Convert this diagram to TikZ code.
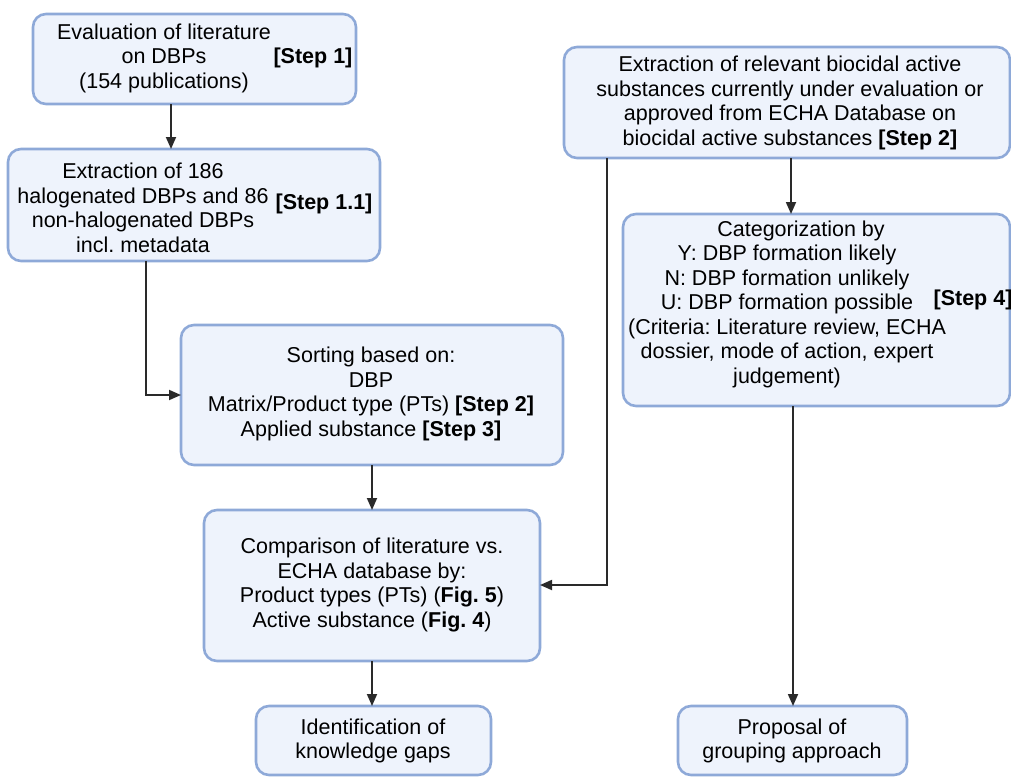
\documentclass[tikz,border=0pt]{standalone}
\usepackage{fontspec}
\setmainfont{Liberation Sans}
\frenchspacing
\usetikzlibrary{arrows.meta}
\definecolor{boxfill}{HTML}{EEF3FC}
\definecolor{boxline}{HTML}{8EA9D8}
\definecolor{arrline}{HTML}{2A2A2A}
\tikzset{
  box/.style={draw=boxline, fill=boxfill, line width=2.6pt, rounded corners=13pt, inner sep=0pt, outer sep=0pt},
  txt/.style={align=center, inner sep=0pt, font=\fontsize{21.5}{24.5}\selectfont, text=black},
  arr/.style={draw=arrline, line width=1.8pt, -{Triangle[width=10pt,length=12pt]}},
}
\begin{document}
\begin{tikzpicture}[x=1pt,y=-1pt]
\useasboundingbox (0,0) rectangle (1011,776);
% boxes
\node[box, minimum width=323pt, minimum height=90pt] (b1) at (194.5,59) {};
\node[box, minimum width=372pt, minimum height=112pt] (b2) at (194,205) {};
\node[box, minimum width=446pt, minimum height=111pt] (b3) at (787,102.5) {};
\node[box, minimum width=387pt, minimum height=192pt] (b4) at (816.5,310) {};
\node[box, minimum width=382pt, minimum height=140pt] (b5) at (372,395) {};
\node[box, minimum width=336pt, minimum height=151pt] (b6) at (372,585.5) {};
\node[box, minimum width=235pt, minimum height=69pt] (b7) at (373.5,740.5) {};
\node[box, minimum width=229pt, minimum height=69pt] (b8) at (792.5,740.5) {};
% texts
\node[txt] (t1) at (164,58) {Evaluation of literature\\on DBPs\\(154 publications)};
\node[txt] (s1) at (313,58) {\textbf{[Step 1]}};
\node[txt] (t2) at (143,208) {Extraction of 186\\halogenated DBPs and 86\\non-halogenated DBPs\\incl. metadata};
\node[txt] (s2) at (324,204) {\textbf{[Step 1.1]}};
\node[txt] (t3) at (790,103) {Extraction of relevant biocidal active\\substances currently under evaluation or\\approved from ECHA Database on\\biocidal active substances \textbf{[Step 2]}};
\node[txt] (t4) at (787,304) {\hspace*{28pt}Categorization by\\Y: DBP formation likely\\N: DBP formation unlikely\\U: DBP formation possible\\(Criteria: Literature review, ECHA\\dossier, mode of action, expert\\judgement)};
\node[txt] (s4) at (973,300) {\textbf{[Step 4]}};
\node[txt] (t5) at (371,394) {Sorting based on:\\DBP\\Matrix/Product type (PTs) \textbf{[Step 2]}\\Applied substance \textbf{[Step 3]}};
\node[txt] (t6) at (372,585) {Comparison of literature vs.\\ECHA database by:\\Product types (PTs) (\textbf{Fig. 5})\\Active substance (\textbf{Fig. 4})};
\node[txt] (t7) at (373,741) {Identification of\\knowledge gaps};
\node[txt] (t8) at (792,741) {Proposal of\\grouping approach};
% helper coordinates
\coordinate (xa) at (171,0);
\coordinate (xb) at (146,0);
\coordinate (xc) at (372,0);
\coordinate (xd) at (791,0);
\coordinate (xe) at (607,0);
\coordinate (xf) at (793,0);
\coordinate (yb) at (0,395);
\coordinate (ye) at (0,585);
% connectors
\draw[arr] (b1.south -| xa) -- (b2.north -| xa);
\draw[arr] (b2.south -| xb) |- (b5.west |- yb);
\draw[arr] (b5.south -| xc) -- (b6.north -| xc);
\draw[arr] (b6.south -| xc) -- (b7.north -| xc);
\draw[arr] (b3.south -| xd) -- (b4.north -| xd);
\draw[arr] (b3.south -| xe) |- (b6.east |- ye);
\draw[arr] (b4.south -| xf) -- (b8.north -| xf);
\end{tikzpicture}
\end{document}
